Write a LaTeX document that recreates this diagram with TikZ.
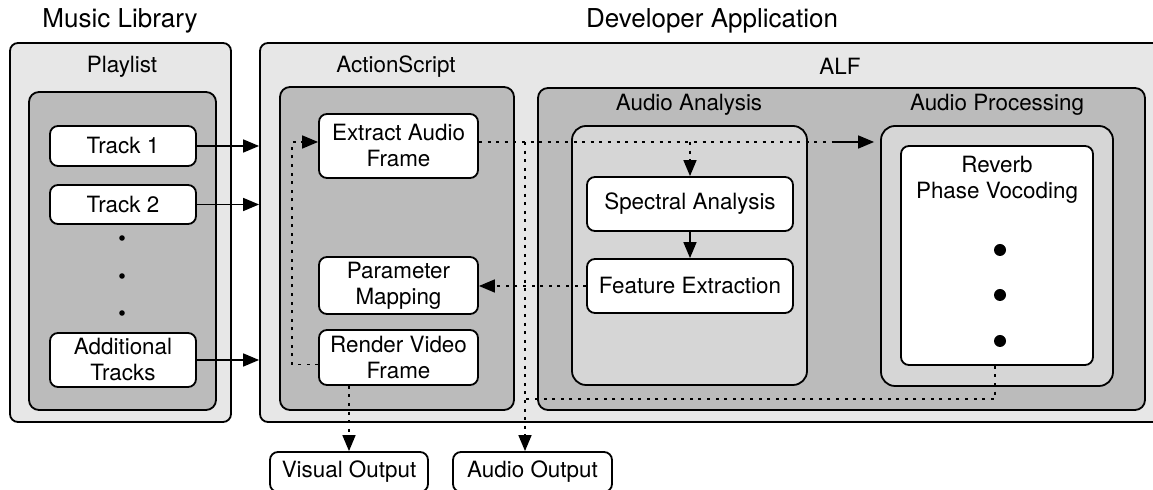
\documentclass[tikz,border=0pt]{standalone}
\usepackage{fontspec}
\setmainfont{TeX Gyre Heros}
\usetikzlibrary{arrows.meta,calc}
\definecolor{gA}{gray}{0.905}
\definecolor{gB}{gray}{0.735}
\definecolor{gC}{gray}{0.84}
\begin{document}
\begin{tikzpicture}[x=0.5pt,y=-0.5pt,
  cont/.style={draw, line width=0.9pt, inner sep=0pt},
  boxA/.style={cont, fill=gA, rounded corners=4pt},
  boxB/.style={cont, fill=gB, rounded corners=5pt},
  boxC/.style={cont, fill=gC, rounded corners=7pt},
  proc/.style={draw, line width=0.9pt, fill=white, rounded corners=4pt, align=center,
    font=\fontsize{11.2}{13}\selectfont, inner sep=0pt},
  ttl/.style={font=\fontsize{11.2}{13}\selectfont, align=center},
  bigttl/.style={font=\fontsize{13}{15}\selectfont},
  tip/.style={-{Triangle[length=8pt,width=6.5pt]}},
  arr/.style={line width=0.8pt, tip},
  dots/.style={line width=0.8pt, dash pattern=on 1.5pt off 2.8pt},
  dotarr/.style={dots, tip}]
\useasboundingbox (0,0) rectangle (1153,490);

% containers
\node[boxA, minimum width=110.5pt, minimum height=189.5pt] (lib) at (120.5,232.5) {};
\node[boxB, minimum width=93.5pt, minimum height=159pt] (pl) at (122.5,251) {};
\node[boxA, minimum width=455pt, minimum height=189.5pt] (dev) at (715,232.5) {};
\node[boxB, minimum width=117pt, minimum height=161.5pt] (as) at (397,248.5) {};
\node[boxB, minimum width=303.5pt, minimum height=161pt] (alf) at (841.5,249) {};
\node[boxC, minimum width=117.5pt, minimum height=129.5pt] (aa) at (689.5,255.5) {};
\node[boxC, minimum width=116pt, minimum height=130pt] (ap) at (997,256) {};
\node[proc, minimum width=96pt, minimum height=109.5pt] (rev) at (997,255.5) {};

% titles
\node[bigttl] (tlib) at (120,21) {Music Library};
\node[bigttl] (tdev) at (712,21) {Developer Application};
\node[ttl] (tpl) at (122,67) {Playlist};
\node[ttl] (tas) at (396,67) {ActionScript};
\node[ttl] (talf) at (840,66) {ALF};
\node[ttl] (taa) at (689,105) {Audio Analysis};
\node[ttl] (tap) at (997,105) {Audio Processing};
\node[ttl] (trev) at (997,180) {Reverb\\Phase Vocoding};

% process boxes
\node[proc, minimum width=73pt, minimum height=20pt] (t1) at (123,146) {Track 1};
\node[proc, minimum width=73pt, minimum height=19.5pt] (t2) at (123,204.5) {Track 2};
\node[proc, minimum width=73pt, minimum height=27pt] (tadd) at (123,360) {Additional\\Tracks};
\node[proc, minimum width=79.5pt, minimum height=32pt] (ext) at (398.5,146) {Extract Audio\\Frame};
\node[proc, minimum width=79.5pt, minimum height=28.5pt] (par) at (398.5,285.5) {Parameter\\Mapping};
\node[proc, minimum width=79.5pt, minimum height=27.5pt] (ren) at (398.5,357.5) {Render Video\\Frame};
\node[proc, minimum width=103pt, minimum height=27pt] (spec) at (690,204) {Spectral Analysis};
\node[proc, minimum width=103pt, minimum height=27pt] (feat) at (690,286) {Feature Extraction};
\node[proc, minimum width=79pt, minimum height=20pt] (vis) at (349,472) {Visual Output};
\node[proc, minimum width=79.5pt, minimum height=20pt] (aout) at (532.5,472) {Audio Output};

% dots
\fill (122,238) circle (1.4pt);
\fill (122,276) circle (1.4pt);
\fill (122,313) circle (1.4pt);
\fill (1000,250) circle (3pt);
\fill (1000,295) circle (3pt);
\fill (1000,341) circle (3pt);

% coordinates
\coordinate (ew) at ($(ext.west)+(0,-4)$);
\coordinate (ee) at ($(ext.east)+(0,-4)$);
\coordinate (rw) at ($(ren.west)+(0,7)$);
\coordinate (lx) at (292,0);
\coordinate (sj) at (835,0);
\coordinate (ax) at (525,0);
\coordinate (rx) at (995,0);
\coordinate (by) at (0,399);

% track arrows
\draw[arr] (t1.east) -- (t1.east -| dev.west);
\draw[arr] (t2.east) -- (t2.east -| dev.west);
\draw[arr] (tadd.east) -- (tadd.east -| dev.west);

% actionscript loop
\draw[dotarr] (rw) -| (lx |- ew) -- (ew);
% extract to processing
\draw[dots] (ee) -- (sj |- ee);
\draw[arr, shorten >=3pt] (sj |- ee) -- (ee -| ap.west);
\draw[dotarr] (spec.north |- ee) -- (spec.north);
\draw[arr] (spec.south) -- (feat.north);
\draw[dotarr] (feat.west) -- (feat.west -| par.east);
% outputs
\draw[dotarr] (vis.north |- ren.south) -- (vis.north);
\draw[dotarr] (ax |- ee) -- (ax |- aout.north);
\draw[dots] (rx |- rev.south) -- (rx |- by) -- (ax |- by);
\end{tikzpicture}
\end{document}
